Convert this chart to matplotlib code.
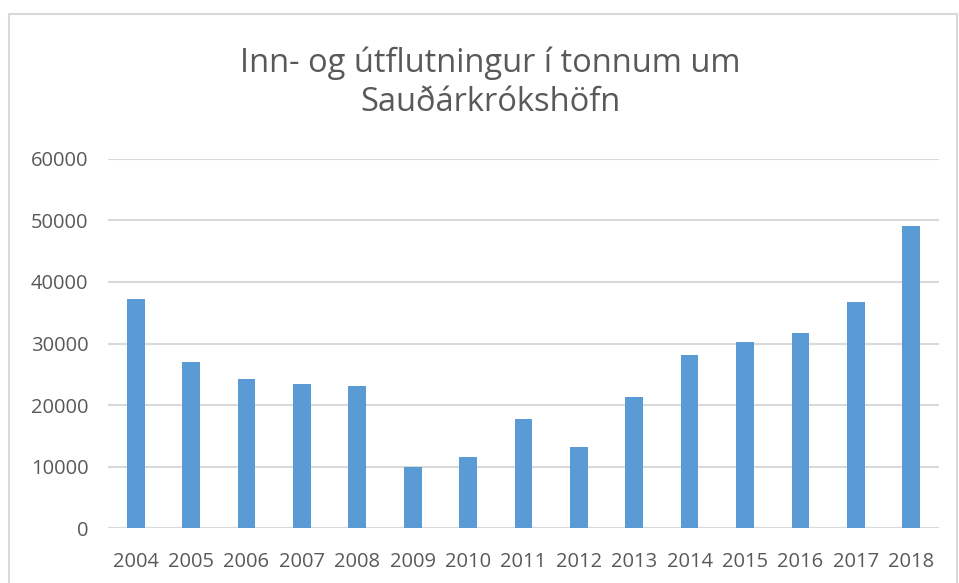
import matplotlib.pyplot as plt
from matplotlib.patches import Rectangle

## Data
years = ['2004', '2005', '2006', '2007', '2008', '2009', '2010', '2011',
         '2012', '2013', '2014', '2015', '2016', '2017', '2018']
tonnes = [37200, 27000, 24250, 23400, 23150, 10000, 11500, 17750,
          13150, 21300, 28100, 30250, 31750, 36700, 49050]
yticks = [0, 10000, 20000, 30000, 40000, 50000, 60000]

title = 'Inn- og útflutningur í tonnum um\nSauðárkrókshöfn'

plt.rcParams['font.family'] = ['Open Sans', 'DejaVu Sans']

fig = plt.figure(figsize=(9.59, 5.83), dpi=100)
ax = fig.add_axes([0.1126, 0.0943, 0.8664, 0.633])

# outer chart border
fig.patches.append(Rectangle((0.0094, -0.01), 0.989, 0.986, transform=fig.transFigure,
                             fill=False, edgecolor='#d9d9d9', linewidth=1.5))

x = range(len(years))
ax.bar(x, tonnes, width=0.32, color='#5b9bd5', zorder=3)

ax.set_xlim(-0.5, len(years) - 0.5)
ax.set_ylim(0, 60000)
ax.set_yticks(yticks)
ax.set_yticklabels([str(v) for v in yticks])
ax.set_xticks(list(x))
ax.set_xticklabels(years)

ax.grid(axis='y', color='#d9d9d9', linewidth=1.5, zorder=0)
for s in ax.spines.values():
    s.set_visible(False)
ax.tick_params(axis='both', length=0, colors='#595959', labelsize=14.5)
ax.tick_params(axis='y', pad=14)
ax.tick_params(axis='x', pad=17)

fig.text(0.511, 0.858, title, ha='center', va='center', fontsize=23.5,
         color='#595959', linespacing=1.25)

fig.savefig('out.png', dpi=100)
